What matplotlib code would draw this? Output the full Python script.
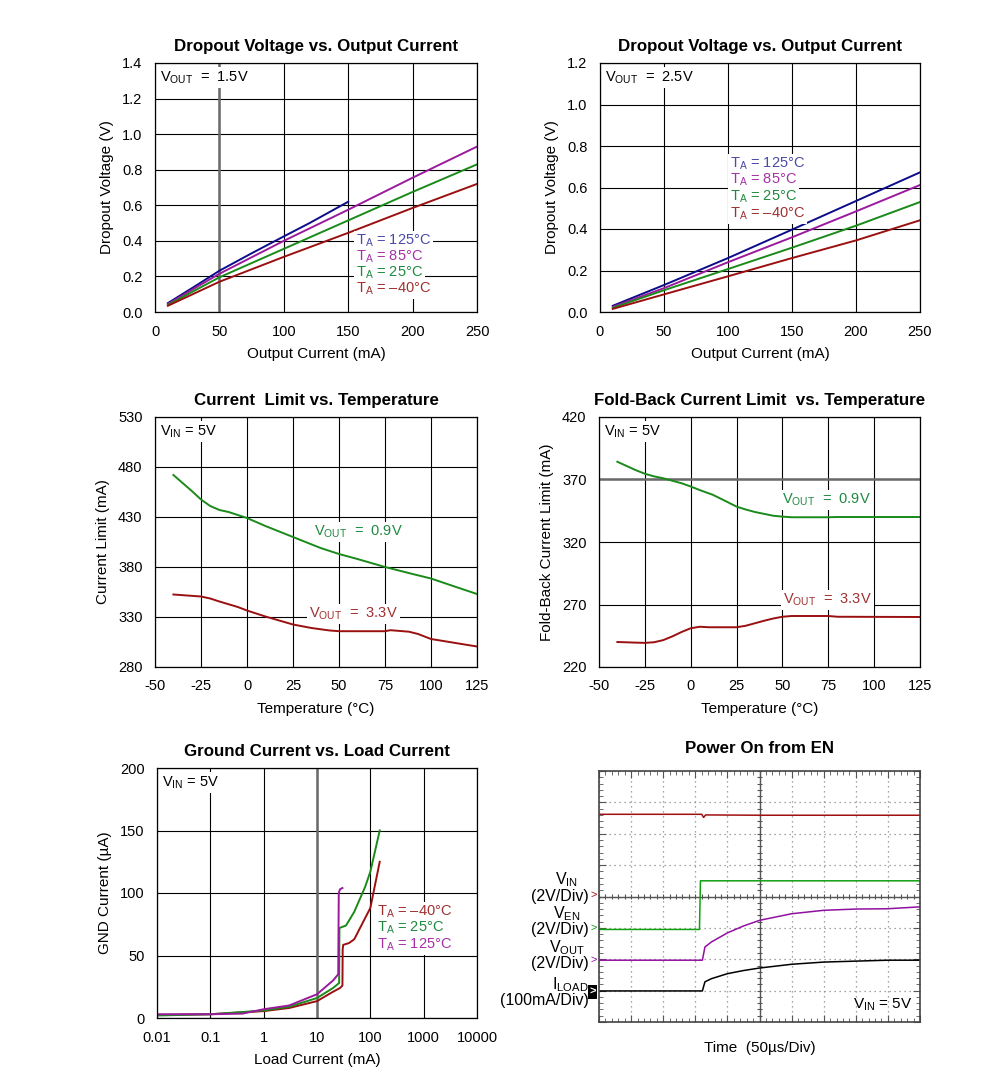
import numpy as np
import matplotlib
matplotlib.use("Agg")
import matplotlib.pyplot as plt

plt.rcParams['font.family'] = ['Liberation Sans', 'DejaVu Sans']
plt.rcParams['mathtext.fontset'] = 'custom'
plt.rcParams['mathtext.rm'] = 'Liberation Sans'
plt.rcParams['mathtext.it'] = 'Liberation Sans'
plt.rcParams['axes.unicode_minus'] = False

# ---------------- data ----------------
# Dropout, VOUT = 1.5V
do1_x_125 = [10, 30, 50, 75, 100, 120, 150]
do1_y_125 = [0.05, 0.14, 0.232, 0.33, 0.425, 0.50, 0.62]
do1_x = [10, 50, 100, 150, 200, 250]
do1_y_85 = [0.045, 0.215, 0.40, 0.575, 0.755, 0.93]
do1_y_25 = [0.04, 0.195, 0.355, 0.515, 0.675, 0.83]
do1_y_m40 = [0.035, 0.17, 0.31, 0.445, 0.585, 0.72]

# Dropout, VOUT = 2.5V
do2_x = [10, 50, 100, 150, 200, 250]
do2_y_125 = [0.03, 0.13, 0.26, 0.397, 0.535, 0.673]
do2_y_85 = [0.025, 0.115, 0.24, 0.36, 0.485, 0.612]
do2_y_25 = [0.02, 0.105, 0.207, 0.31, 0.416, 0.53]
do2_y_m40 = [0.015, 0.085, 0.172, 0.26, 0.345, 0.442]

# Current limit vs temperature
cl_t_09 = [-40, -35, -30, -25, -20, -15, -10, -5, 0, 10, 25, 40, 50, 60, 75, 90, 100, 112, 125]
cl_09 = [472, 464, 456, 447.5, 441, 437, 435, 432, 429, 421, 410, 399, 393, 388, 380, 373, 368.5, 361, 353]
cl_t_33 = [-40, -25, -20, -15, -5, 0, 10, 25, 35, 45, 50, 75, 78, 88, 93, 100, 110, 125]
cl_33 = [352.5, 350.5, 348.5, 345.5, 340, 336.5, 330.5, 322.5, 319, 316.5, 315.8, 315.8, 316.8,
         315.3, 313, 308, 305, 300.5]

# Fold-back current limit vs temperature
fb_t_09 = [-40, -30, -25, -20, -15, -10, -5, 0, 5, 12, 20, 25, 30, 35, 40, 45, 50, 55, 75, 80, 125]
fb_09 = [384.2, 377.5, 374.6, 372.5, 371, 369, 367, 364.4, 361.5, 357.8, 352, 348.3, 346, 344,
         342.5, 341, 340.3, 339.8, 339.8, 340, 340]
fb_t_33 = [-40, -30, -25, -20, -15, -10, -5, 0, 5, 10, 25, 30, 35, 40, 45, 50, 55, 75, 80, 125]
fb_33 = [240, 239.5, 239.3, 239.8, 241.5, 244.5, 248, 251, 252.2, 251.8, 251.8, 253, 255, 257,
         258.8, 260.2, 260.8, 260.8, 260.2, 260]

# Ground current vs load current
gc_x_m40 = [0.01, 0.1, 1, 3, 10, 20, 27, 30, 30.3, 31, 40, 50, 80, 100, 150]
gc_m40 = [2.5, 3, 5.5, 8, 13.5, 21, 24, 26, 55, 58.5, 60, 63, 80, 88, 125]
gc_x_25 = [0.01, 0.1, 1, 3, 10, 20, 26, 26.3, 35, 50, 80, 100, 150]
gc_25 = [2, 3, 6, 9, 16, 24, 28, 72, 74, 85, 105, 117, 150]
gc_x_125 = [0.01, 0.1, 0.4, 1, 3, 10, 20, 25, 25.6, 27, 30]
gc_125 = [3, 3, 3.5, 7, 10, 19, 30, 35, 100, 103, 104]

# Scope traces (divisions)
sc_t_vin = [0, 3.2, 3.26, 3.32, 5.0, 10]
sc_vin = [6.62, 6.62, 6.52, 6.60, 6.59, 6.59]
sc_t_ven = [0, 3.13, 3.16, 10]
sc_ven = [2.95, 2.95, 4.5, 4.5]
sc_t_vout = [0, 3.22, 3.3, 3.5, 4, 4.5, 5, 6, 7, 8, 9, 10]
sc_vout = [1.97, 1.97, 2.39, 2.55, 2.84, 3.06, 3.24, 3.45, 3.56, 3.6, 3.61, 3.67]
sc_t_il = [0, 3.22, 3.3, 3.5, 4, 4.5, 5, 6, 7, 8, 9, 10]
sc_il = [0.99, 0.99, 1.28, 1.38, 1.54, 1.64, 1.72, 1.84, 1.91, 1.94, 1.97, 1.97]

C_BLUE = '#0c0c8a'
C_PURP = '#9a1a9e'
C_GREEN = '#1a8a1a'
C_RED = '#9a1010'
T_BLUE = '#4a4aa8'
T_PURP = '#a630a6'
T_GREEN = '#1e8a40'
T_RED = '#a03030'
GRAYLINE = '#6a6a6a'

W, H = 991, 1090
fig = plt.figure(figsize=(W / 100, H / 100), dpi=100)

def add_ax(l, t, r, b):
    return fig.add_axes([l / W, 1 - b / H, (r - l) / W, (b - t) / H])

def style(ax, title, xlabel, ylabel):
    ax.set_title(title, fontsize=12.2, fontweight='bold', pad=9)
    ax.set_xlabel(xlabel, fontsize=11, labelpad=6)
    ax.set_ylabel(ylabel, fontsize=11, labelpad=6)
    ax.tick_params(length=0, pad=9, labelsize=10.5)
    ax.grid(True, color='black', lw=0.8, zorder=0.5)
    ax.set_axisbelow(True)
    for s in ax.spines.values():
        s.set_color('black')
        s.set_linewidth(0.9)

BB = dict(facecolor='white', edgecolor='none', pad=1.5)

def corner(ax, txt):
    ax.text(0.015, 0.975, txt, transform=ax.transAxes, ha='left', va='top',
            fontsize=10.5, bbox=BB, zorder=5)

# ---- top-left ----
ax = add_ax(155, 63, 477, 312)
ax.axvline(50, color=GRAYLINE, lw=1.8, zorder=1.1)
ax.plot(do1_x_125, do1_y_125, color=C_BLUE, lw=1.4, zorder=2)
ax.plot(do1_x, do1_y_85, color=C_PURP, lw=1.4, zorder=2)
ax.plot(do1_x, do1_y_25, color=C_GREEN, lw=1.4, zorder=2)
ax.plot(do1_x, do1_y_m40, color=C_RED, lw=1.4, zorder=2)
ax.set_xlim(0, 250); ax.set_ylim(0, 1.4)
ax.set_xticks(np.arange(0, 251, 50)); ax.set_yticks(np.arange(0, 1.41, 0.2))
ax.set_yticklabels(['%.1f' % v for v in np.arange(0, 1.41, 0.2)])
style(ax, 'Dropout Voltage vs. Output Current', 'Output Current (mA)', 'Dropout Voltage (V)')
corner(ax, r'$\mathrm{V_{OUT}}$  =  1.5V')
for yy, txt, c in [(0.40, '125°C', T_BLUE), (0.31, '85°C', T_PURP),
                   (0.22, '25°C', T_GREEN), (0.13, '–40°C', T_RED)]:
    ax.text(156, yy, r'$\mathrm{T_A}$ = ' + txt, color=c, fontsize=10.5,
            va='center', ha='left', bbox=BB, zorder=5)

# ---- top-right ----
ax = add_ax(600, 63, 920, 312)
ax.plot(do2_x, do2_y_125, color=C_BLUE, lw=1.4)
ax.plot(do2_x, do2_y_85, color=C_PURP, lw=1.4)
ax.plot(do2_x, do2_y_25, color=C_GREEN, lw=1.4)
ax.plot(do2_x, do2_y_m40, color=C_RED, lw=1.4)
ax.set_xlim(0, 250); ax.set_ylim(0, 1.2)
ax.set_xticks(np.arange(0, 251, 50)); ax.set_yticks(np.arange(0, 1.21, 0.2))
ax.set_yticklabels(['%.1f' % v for v in np.arange(0, 1.21, 0.2)])
style(ax, 'Dropout Voltage vs. Output Current', 'Output Current (mA)', 'Dropout Voltage (V)')
corner(ax, r'$\mathrm{V_{OUT}}$  =  2.5V')
for yy, txt, c in [(0.713, '125°C', T_BLUE), (0.636, '85°C', T_PURP),
                   (0.554, '25°C', T_GREEN), (0.472, '–40°C', T_RED)]:
    ax.text(101.5, yy, r'$\mathrm{T_A}$ = ' + txt, color=c, fontsize=10.5,
            va='center', ha='left', bbox=BB, zorder=5)

# ---- middle-left ----
ax = add_ax(155, 417, 477, 667)
ax.plot(cl_t_09, cl_09, color=C_GREEN, lw=1.4)
ax.plot(cl_t_33, cl_33, color=C_RED, lw=1.4)
ax.set_xlim(-50, 125); ax.set_ylim(280, 530)
ax.set_xticks(np.arange(-50, 126, 25)); ax.set_yticks(np.arange(280, 531, 50))
style(ax, 'Current  Limit vs. Temperature', 'Temperature (°C)', 'Current Limit (mA)')
corner(ax, r'$\mathrm{V_{IN}}$ = 5V')
ax.text(60.5, 415, r'$\mathrm{V_{OUT}}$  =  0.9V', color=T_GREEN, fontsize=10.5,
        ha='center', va='center', bbox=BB, zorder=5)
ax.text(58, 333, r'$\mathrm{V_{OUT}}$  =  3.3V', color=T_RED, fontsize=10.5,
        ha='center', va='center', bbox=BB, zorder=5)

# ---- middle-right ----
ax = add_ax(599, 417, 920, 667)
ax.axhline(370, color=GRAYLINE, lw=1.8, zorder=1.1)
ax.plot(fb_t_09, fb_09, color=C_GREEN, lw=1.4, zorder=2)
ax.plot(fb_t_33, fb_33, color=C_RED, lw=1.4, zorder=2)
ax.set_xlim(-50, 125); ax.set_ylim(220, 420)
ax.set_xticks(np.arange(-50, 126, 25)); ax.set_yticks(np.arange(220, 421, 50))
style(ax, 'Fold-Back Current Limit  vs. Temperature', 'Temperature (°C)',
      'Fold-Back Current Limit (mA)')
corner(ax, r'$\mathrm{V_{IN}}$ = 5V')
ax.text(74, 353.6, r'$\mathrm{V_{OUT}}$  =  0.9V', color=T_GREEN, fontsize=10.5,
        ha='center', va='center', bbox=BB, zorder=5)
ax.text(74.5, 273.6, r'$\mathrm{V_{OUT}}$  =  3.3V', color=T_RED, fontsize=10.5,
        ha='center', va='center', bbox=BB, zorder=5)

# ---- bottom-left ----
ax = add_ax(157, 768, 477, 1018)
ax.axvline(10, color=GRAYLINE, lw=1.8, zorder=1.1)
ax.plot(gc_x_m40, gc_m40, color=C_RED, lw=1.4, zorder=2)
ax.plot(gc_x_25, gc_25, color=C_GREEN, lw=1.4, zorder=2)
ax.plot(gc_x_125, gc_125, color=C_PURP, lw=1.4, zorder=2)
ax.set_xscale('log')
ax.set_xlim(0.01, 10000); ax.set_ylim(0, 200)
xt = [0.01, 0.1, 1, 10, 100, 1000, 10000]
ax.set_xticks(xt); ax.set_xticklabels(['0.01', '0.1', '1', '10', '100', '1000', '10000'])
ax.xaxis.set_minor_locator(matplotlib.ticker.NullLocator())
ax.set_yticks(np.arange(0, 201, 50))
style(ax, 'Ground Current vs. Load Current', 'Load Current (mA)', 'GND Current (µA)')
corner(ax, r'$\mathrm{V_{IN}}$ = 5V')
for yy, txt, c in [(84.8, '–40°C', T_RED), (72, '25°C', T_GREEN), (58.4, '125°C', T_PURP)]:
    ax.text(133, yy, r'$\mathrm{T_A}$ = ' + txt, color=c, fontsize=10.5,
            va='center', ha='left', bbox=BB, zorder=5)

# ---- bottom-right scope ----
ax = add_ax(599, 771, 920, 1022)
ax.set_xlim(0, 10); ax.set_ylim(0, 8)
ax.set_title('Power On from EN', fontsize=12.2, fontweight='bold', pad=13)
ax.set_xticks(np.arange(0, 11, 1)); ax.set_yticks(np.arange(0, 9, 1))
ax.set_xticks(np.arange(0, 10.01, 0.2), minor=True)
ax.set_yticks(np.arange(0, 8.01, 0.2), minor=True)
ax.set_xticklabels([]); ax.set_yticklabels([])
ax.tick_params(which='both', direction='in', top=True, right=True, color='#555555')
ax.tick_params(which='major', length=5)
ax.tick_params(which='minor', length=3)
ax.grid(True, which='major', color='#888888', lw=0.9, ls=(0, (1, 3)))
ax.axvline(5, color='#555555', lw=1.0)
ax.axhline(4, color='#555555', lw=1.0)
mk = np.arange(0, 10.01, 0.2)
ax.vlines(mk, 4 - 0.09, 4 + 0.09, color='#555555', lw=0.8)
mky = np.arange(0, 8.01, 0.2)
ax.hlines(mky, 5 - 0.09, 5 + 0.09, color='#555555', lw=0.8)
for s in ax.spines.values():
    s.set_color('#444444'); s.set_linewidth(1.2)
ax.plot(sc_t_vin, sc_vin, color='#a01010', lw=1.1)
ax.plot(sc_t_ven, sc_ven, color='#10a010', lw=1.1)
ax.plot(sc_t_vout, sc_vout, color='#9010a0', lw=1.1)
ax.plot(sc_t_il, sc_il, color='black', lw=1.1)
ax.set_xlabel('Time  (50µs/Div)', fontsize=11, labelpad=10)
ax.text(9.75, 0.55, r'$\mathrm{V_{IN}}$ = 5V', fontsize=11, ha='right', va='center')
# channel markers
ax.text(-0.06, 4.04, '>', color='#a01010', fontsize=8, ha='right', va='center', clip_on=False)
ax.text(-0.06, 2.99, '>', color='#10a010', fontsize=8, ha='right', va='center', clip_on=False)
ax.text(-0.06, 1.97, '>', color='#9010a0', fontsize=8, ha='right', va='center', clip_on=False)
ax.text(-0.1, 0.96, '>', color='white', fontsize=8, fontweight='bold', ha='right',
        va='center', clip_on=False,
        bbox=dict(facecolor='black', edgecolor='none', pad=1.2))
labels = [(4.55, r'$\mathrm{V_{IN}}$'), (4.0, '(2V/Div)'),
          (3.45, r'$\mathrm{V_{EN}}$'), (2.95, '(2V/Div)'),
          (2.38, r'$\mathrm{V_{OUT}}$'), (1.88, '(2V/Div)'),
          (1.18, r'$\mathrm{I_{LOAD}}$'), (0.67, '(100mA/Div)')]
for yy, txt in labels:
    x_off = -0.33
    if txt.startswith('$'):
        x_off = -1.0 if 'LOAD' not in txt else -0.9
    ax.text(x_off, yy, txt, fontsize=11.5, ha='right' if not txt.startswith('$') else 'center',
            va='center', clip_on=False)

fig.savefig('out.png', dpi=100)
